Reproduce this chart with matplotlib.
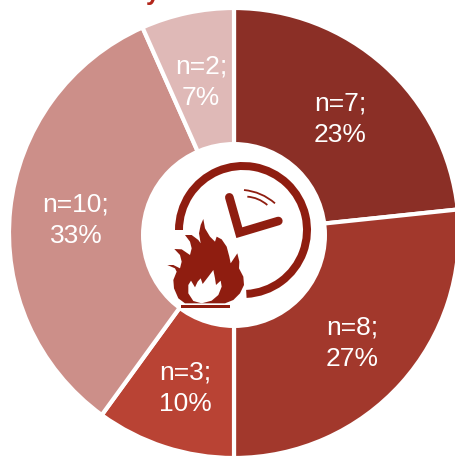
import matplotlib
matplotlib.use("Agg")
import matplotlib.pyplot as plt
from matplotlib.patches import Circle, Wedge, PathPatch, Rectangle, Polygon
from matplotlib.path import Path

counts = [7, 8, 3, 10, 2]
percents = [23, 27, 10, 33, 7]
colors = ["#8B2F26", "#A2382C", "#B94334", "#CC8F89", "#DFB9B7"]
label_pos = [(340, 119), (352, 343), (185, 388), (76, 220), (201, 82)]
W, H = 456, 457
ICON = "#8F1D10"

plt.rcParams["font.family"] = ["Liberation Sans", "DejaVu Sans"]
fig = plt.figure(figsize=(W / 100, H / 100), dpi=100)
ax = fig.add_axes([0, 0, 1, 1])
ax.pie(counts, colors=colors, startangle=90, counterclock=False,
       center=(234, H - 233), radius=225,
       wedgeprops=dict(edgecolor="white", linewidth=3))
ax.set_xlim(0, W)
ax.set_ylim(0, H)
ax.set_aspect("equal")
ax.axis("off")

for (x, y), n, p in zip(label_pos, counts, percents):
    ax.text(x, H - y, f"n={n};\n{p}%", color="white", fontsize=19, ha="center",
            va="center", linespacing=1.42)

# cropped title fragment at the top edge
ax.text(153, H + 7, "y", color="#B3261A", fontsize=18, ha="center", va="center",
        fontweight="bold", clip_on=True)

# centre hub and icon
ax.add_patch(Circle((234, H - 235), 93, fc="white", ec="none", zorder=3))
ax.add_patch(Wedge((243, H - 230), 68, -87, 180, width=8, fc=ICON, ec="none", zorder=4))


def z(pt):
    return (130 + pt[0] / 3, H - (140 + pt[1] / 3))


hand = [(298, 172), (328, 278), (445, 243)]
ax.plot(*zip(*[z(p) for p in hand]), color=ICON, lw=6.2, solid_capstyle="round",
        solid_joinstyle="miter", zorder=4)

for arc in ([(342, 150), (395, 155), (435, 190)], [(352, 170), (385, 172), (412, 195)]):
    ax.add_patch(PathPatch(Path([z(p) for p in arc], [Path.MOVETO, Path.CURVE3, Path.CURVE3]),
                           fc="none", ec=ICON, lw=1.3, zorder=4))

flame = [(165, 490), (145, 475), (132, 445), (130, 420), (140, 395), (135, 385), (112, 375),
         (130, 375), (150, 385), (155, 365), (150, 345), (133, 327), (155, 328), (180, 345),
         (185, 325), (180, 305), (165, 285), (185, 285), (205, 300), (212, 310), (207, 280),
         (212, 255), (220, 237), (225, 265), (240, 290), (255, 305), (260, 290), (275, 298),
         (290, 320), (298, 350), (302, 370), (312, 355), (322, 340), (328, 365), (327, 385),
         (340, 410), (342, 435), (330, 460), (310, 480), (285, 490)]
ax.add_patch(Polygon([z(p) for p in flame], fc=ICON, ec="white", lw=1.2, zorder=5))
ax.add_patch(Polygon([z(p) for p in flame], fc=ICON, ec="none", zorder=5))
inner = [(215, 490), (190, 483), (175, 460), (175, 435), (183, 422), (195, 442), (203, 425),
         (212, 415), (218, 432), (235, 410), (250, 390), (255, 415), (258, 435), (272, 422),
         (275, 440), (265, 465), (245, 482)]
ax.add_patch(Polygon([z(p) for p in inner], fc="white", ec="none", zorder=6))
x0, y0 = z((152, 503))
x1, y1 = z((300, 495))
ax.add_patch(Rectangle((x0, y0), x1 - x0, y1 - y0, fc=ICON, ec="none", zorder=5))

fig.savefig("out.png", dpi=100)
